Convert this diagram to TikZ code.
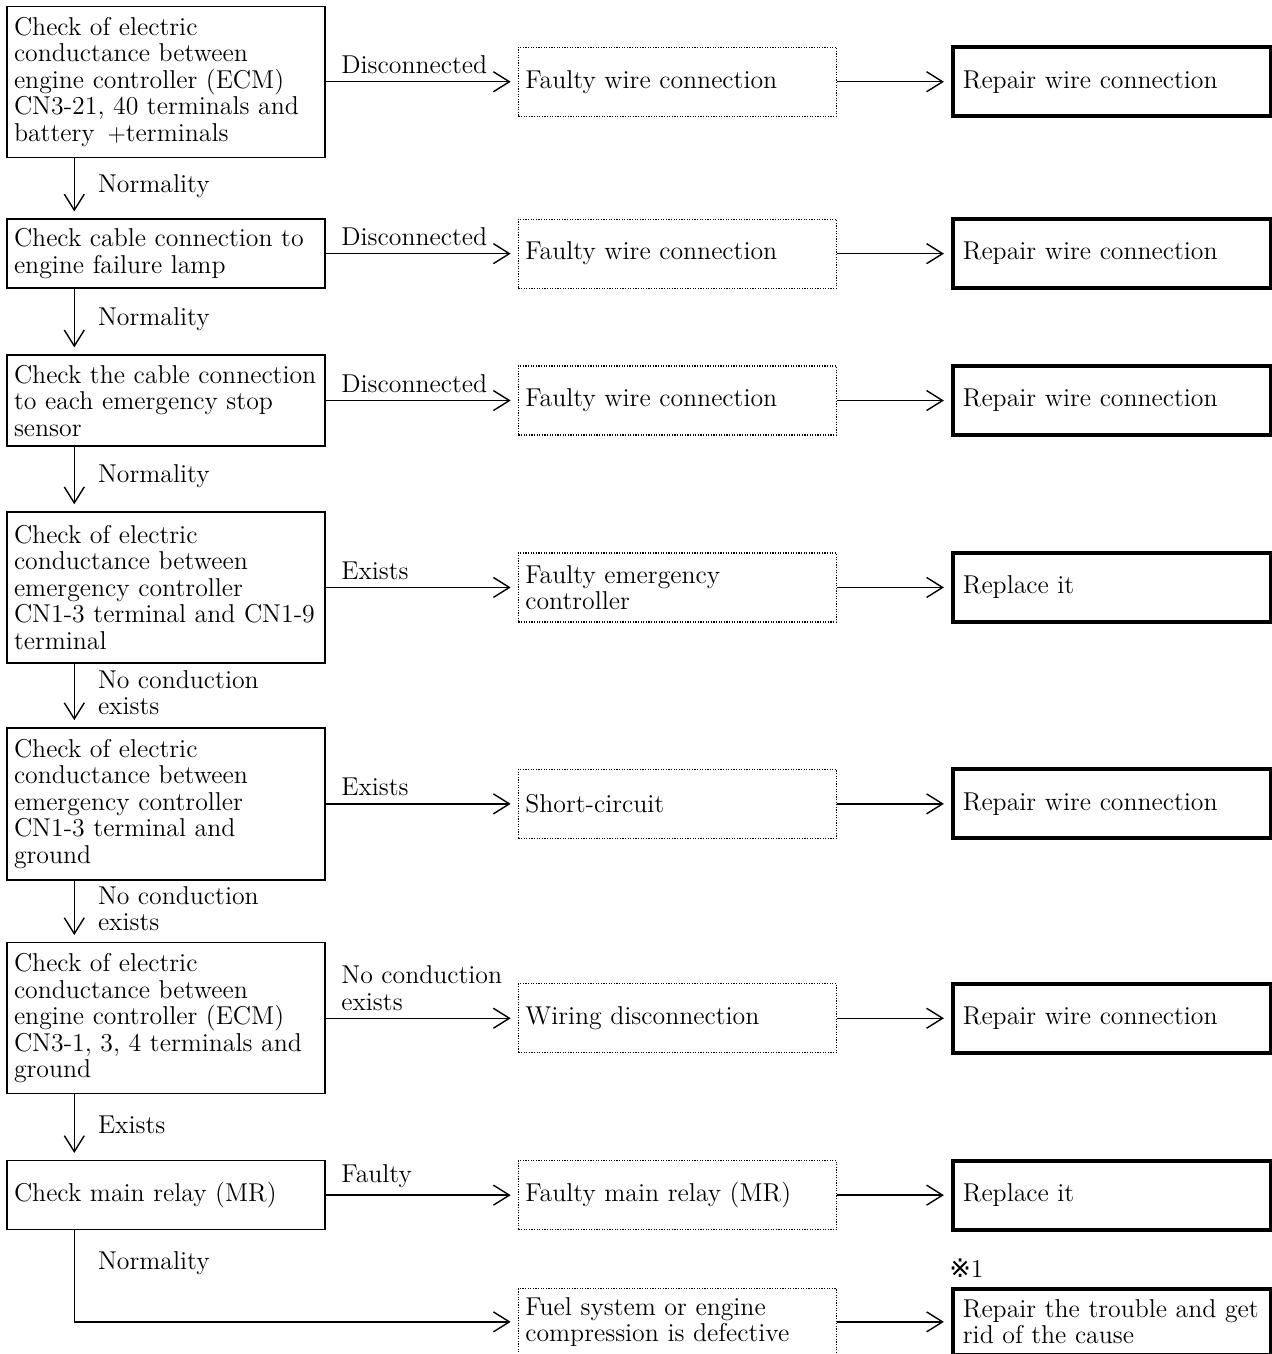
\documentclass[tikz,border=0pt]{standalone}
\usepackage{fontspec}
\newfontfamily\symfont{DejaVu Sans}
\usetikzlibrary{arrows.meta,positioning}

\begin{document}
\begin{tikzpicture}[font=\fontsize{12.9pt}{13.25pt}\selectfont, node distance=32.5pt and 96pt,
  chk/.style={draw,line width=0.7pt,text width=152pt,inner xsep=3.5pt,inner ysep=0pt,align=left,minimum height=#1},
  cause/.style={draw,line width=0.6pt,dash pattern=on 0.6pt off 0.7pt,text width=152pt,inner xsep=3.5pt,inner ysep=0pt,align=left,minimum height=34.5pt},
  fix/.style={draw,line width=2pt,text width=149pt,inner xsep=5pt,inner ysep=0pt,align=left,minimum height=34.5pt},
  arr/.style={-{Straight Barb[length=8pt,width=10pt]},line width=0.7pt,shorten >=3.5pt},
  lbl/.style={inner sep=2pt,align=left}]
\useasboundingbox (0,0) rectangle (636pt,-677pt);
\node[chk=75.5pt] (chk1) at (83pt,-40.875pt) {Check of electric\\conductance between\\engine controller (ECM)\\CN3-21, 40 terminals and\\battery\enspace$+$terminals};
\node[chk=34.5pt, below=30.25pt of chk1] (chk2) {Check cable connection to\\engine failure lamp};
\node[chk=45.5pt, below=32.75pt of chk2] (chk3) {Check the cable connection\\to each emergency stop\\sensor};
\node[chk=75.5pt, below=32.25pt of chk3] (chk4) {Check of electric\\conductance between\\emergency controller\\CN1-3 terminal and CN1-9\\terminal};
\node[chk=76pt, below=31.75pt of chk4] (chk5) {Check of electric\\conductance between\\emergency controller\\CN1-3 terminal and\\ground};
\node[chk=75.5pt, below=30.75pt of chk5] (chk6) {Check of electric\\conductance between\\engine controller (ECM)\\CN3-1, 3, 4 terminals and\\ground};
\node[chk=34.5pt, below=32.75pt of chk6] (chk7) {Check main relay (MR)};
\node[cause, right=of chk1] (cause1) {Faulty wire connection};
\node[cause, right=of chk2] (cause2) {Faulty wire connection};
\node[cause, right=of chk3] (cause3) {Faulty wire connection};
\node[cause, right=of chk4] (cause4) {Faulty emergency\\controller};
\node[cause, right=of chk5] (cause5) {Short-circuit};
\node[cause, right=of chk6] (cause6) {Wiring disconnection};
\node[cause, right=of chk7] (cause7) {Faulty main relay (MR)};
\node[cause, below=29pt of cause7, minimum height=33pt] (cause8) {Fuel system or engine\\compression is defective};
\node[fix, right=57pt of cause1] (fix1) {Repair wire connection};
\node[fix, right=57pt of cause2] (fix2) {Repair wire connection};
\node[fix, right=57pt of cause3] (fix3) {Repair wire connection};
\node[fix, right=57pt of cause4] (fix4) {Replace it};
\node[fix, right=57pt of cause5] (fix5) {Repair wire connection};
\node[fix, right=57pt of cause6] (fix6) {Repair wire connection};
\node[fix, right=57pt of cause7] (fix7) {Replace it};
\node[fix, right=57pt of cause8, minimum height=33pt] (fix8) {Repair the trouble and get\\rid of the cause};
\node[lbl, inner sep=0pt, anchor=south west] (note) at ([xshift=-1pt,yshift=4.5pt]fix8.north west) {{\symfont ※}1};
\foreach \i/\t in {1/Disconnected,2/Disconnected,3/Disconnected,4/Exists,5/Exists,6/{No conduction\\exists},7/Faulty}
  \draw[arr] (chk\i) -- node[lbl,pos=0,anchor=south west,xshift=5.5pt,yshift=1.5pt]{\t} (cause\i);
\foreach \i in {1,...,8} \draw[arr] (cause\i) -- (fix\i);
\foreach \a/\b/\t in {1/2/Normality,2/3/Normality,3/4/Normality,4/5/{No conduction\\exists},5/6/{No conduction\\exists},6/7/Exists}
  \draw[arr] ([xshift=34pt]chk\a.south west) -- node[lbl,pos=0.46,anchor=west,xshift=9.5pt]{\t} ([xshift=34pt]chk\b.north west);
\draw[arr] ([xshift=34pt]chk7.south west) |- node[lbl,pos=0.18,anchor=west,xshift=9.5pt]{Normality} (cause8);
\end{tikzpicture}
\end{document}
